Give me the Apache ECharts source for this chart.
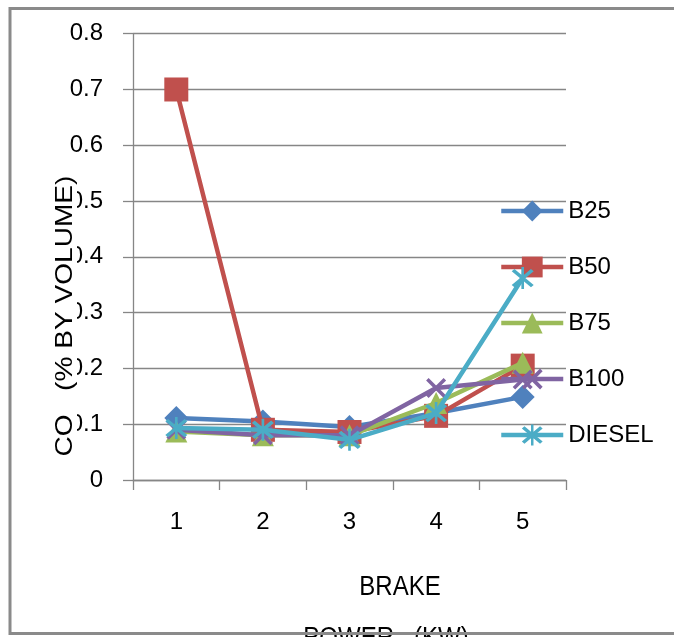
<!DOCTYPE html>
<html><head><meta charset="utf-8">
<script src="https://cdn.jsdelivr.net/npm/echarts@6/dist/echarts.min.js"></script>
<style>html,body{margin:0;padding:0;background:#fff}#c{width:674px;height:637px}</style>
</head><body><div id="c"></div>
<script>
const categories = ['1', '2', '3', '4', '5'];
const seriesNames = ['B25', 'B50', 'B75', 'B100', 'DIESEL'];
const b25 = [0.111, 0.105, 0.095, 0.12, 0.149];
const b50 = [0.70, 0.09, 0.086, 0.115, 0.205];
const b75 = [0.087, 0.08, 0.08, 0.138, 0.21];
const b100 = [0.09, 0.08, 0.08, 0.165, 0.18];
const diesel = [0.093, 0.09, 0.072, 0.12, 0.362];
const yTicks = [0, 0.1, 0.2, 0.3, 0.4, 0.5, 0.6, 0.7, 0.8];

const colors = ['#4F81BD', '#C0504D', '#9BBB59', '#8064A2', '#4BACC6'];
const xPath = 'path://M0,2.5L2.5,0L20,17.5L17.5,20Z M17.5,0L20,2.5L2.5,20L0,17.5Z';
const starPath = 'path://M0,2.5L2.5,0L20,17.5L17.5,20Z M17.5,0L20,2.5L2.5,20L0,17.5Z M8.8,-2L11.2,-2L11.2,22L8.8,22Z';
const symbols = ['diamond', 'rect', 'triangle', xPath, starPath];
const sizes = [24, 24, 22, 20, 22];
const values = [b25, b50, b75, b100, diesel];
const FONT = 'Liberation Sans';

const chart = echarts.init(document.getElementById('c'), null, {renderer: 'canvas'});
chart.setOption({
  animation: false,
  backgroundColor: '#fff',
  color: colors,
  textStyle: {fontFamily: FONT},
  grid: {left: 133, right: 108, top: 33.7, bottom: 157, containLabel: false},
  legend: {
    orient: 'vertical', left: 494, top: 194,
    itemWidth: 62, itemHeight: 26, itemGap: 32,
    lineStyle: {width: 4.5},
    textStyle: {fontSize: 24, color: '#000', fontFamily: FONT},
    data: seriesNames
  },
  xAxis: {
    type: 'category', data: categories, boundaryGap: true,
    axisLine: {lineStyle: {color: '#868686', width: 1.3}},
    axisTick: {show: true, length: 10, alignWithLabel: false, lineStyle: {color: '#868686', width: 1.3}},
    axisLabel: {fontSize: 24, color: '#000', margin: 30, fontFamily: FONT}
  },
  yAxis: {
    type: 'value', min: 0, max: 0.8, interval: 0.1,
    axisLine: {show: true, lineStyle: {color: '#868686', width: 1.3}},
    axisTick: {show: true, length: 10, lineStyle: {color: '#868686', width: 1.3}},
    splitLine: {show: true, lineStyle: {color: '#868686', width: 1.3}},
    axisLabel: {fontSize: 24, color: '#000', margin: 30, fontFamily: FONT,
      formatter: v => { const t = yTicks.find(k => Math.abs(k - v) < 1e-9); return t === 0 ? '0' : String(+t.toFixed(1)); }}
  },
  series: seriesNames.map((n, i) => ({
    name: n, type: 'line', data: values[i],
    symbol: symbols[i], symbolSize: sizes[i], showSymbol: true,
    lineStyle: {width: 4.5, color: colors[i]},
    itemStyle: {color: colors[i]},
    z: 2 + i
  })),
  graphic: [
    {type: 'text', x: 65, y: 316, rotation: Math.PI / 2, scaleX: 1.17, z: 100,
      style: {text: 'CO   (% BY VOLUME)', font: '24px "' + FONT + '"', fill: '#000',
        align: 'center', verticalAlign: 'middle', backgroundColor: '#fff', padding: [0, 1]}},
    {type: 'text', x: 400, y: 587, scaleY: 1.15, z: 100,
      style: {text: 'BRAKE', font: '24px "' + FONT + '"', fill: '#000', align: 'center', verticalAlign: 'middle'}},
    {type: 'text', x: 386, y: 638, scaleY: 1.15, z: 100,
      style: {text: 'POWER   (KW)', font: '24px "' + FONT + '"', fill: '#000', align: 'center', verticalAlign: 'middle'}},
    {type: 'rect', z: 200, shape: {x: 10, y: 8.5, width: 800, height: 625},
      style: {fill: null, stroke: '#8a8a8a', lineWidth: 3}}
  ]
});
</script></body></html>
